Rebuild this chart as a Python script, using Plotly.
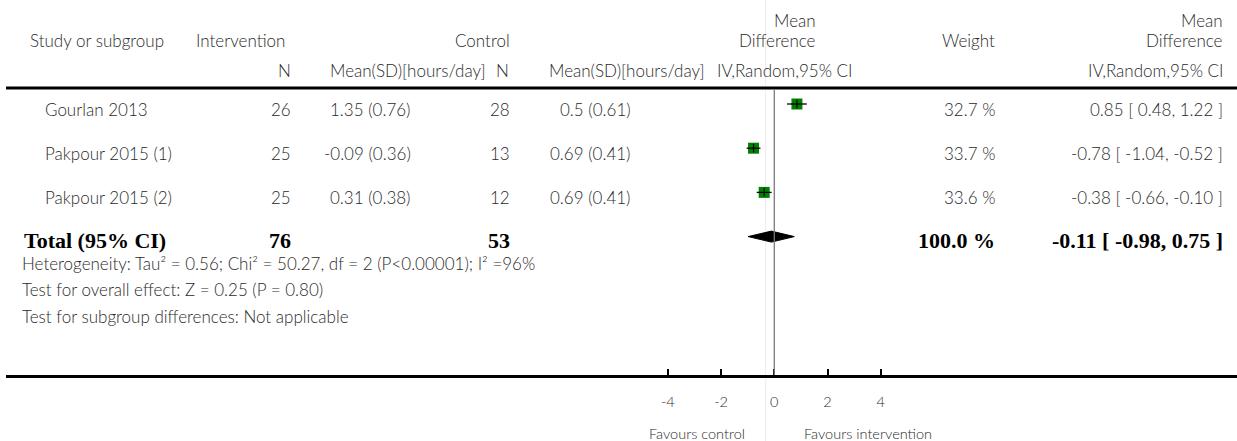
import plotly.graph_objects as go

# ---- data -------------------------------------------------------------
studies = ["Gourlan 2013", "Pakpour 2015 (1)", "Pakpour 2015 (2)"]
int_n = [26, 25, 25]
int_mean = [1.35, -0.09, 0.31]
int_sd = [0.76, 0.36, 0.38]
ctrl_n = [28, 13, 12]
ctrl_mean = [0.5, 0.69, 0.69]
ctrl_sd = [0.61, 0.41, 0.41]
md = [0.85, -0.78, -0.38]
ci_lo = [0.48, -1.04, -0.66]
ci_hi = [1.22, -0.52, -0.10]
weights = [32.7, 33.7, 33.6]

total_label = "Total (95% CI)"
total_int_n = 76
total_ctrl_n = 53
total_md = -0.11
total_lo = -0.98
total_hi = 0.75
total_weight = 100.0

footer_lines = [
    "Heterogeneity: Tau² = 0.56; Chi² = 50.27, df = 2 (P&lt;0.00001); I² =96%",
    "Test for overall effect: Z = 0.25 (P = 0.80)",
    "Test for subgroup differences: Not applicable",
]
tick_vals = [-4, -2, 0, 2, 4]
tick_text = ["-4", "-2", "0", "2", "4"]
favours_left = "Favours control"
favours_right = "Favours intervention"

# ---- page geometry (pixels) --------------------------------------------
W, H = 1237, 441
ZERO_PX = 774.3          # x pixel of MD = 0
UNIT_PX = 26.62          # pixels per MD unit
AXIS_LEFT_PX = 6
ROW0_PX = 104.0          # y pixel of first study row marker
ROW_STEP = 44.2          # pixels between rows
AXIS_Y_PX = 375

def px(x):
    return x / W

def py(y):
    return 1 - y / H

x_left = (AXIS_LEFT_PX - ZERO_PX) / UNIT_PX
x_right = (W - ZERO_PX) / UNIT_PX
y_top = (0 - ROW0_PX) / ROW_STEP
y_bot = (AXIS_Y_PX - ROW0_PX) / ROW_STEP

TXT = "#2a2a2a"
FONT = "Lato"
BODY = dict(family=FONT, size=17, color=TXT, weight=300)
BOLD = dict(family="Liberation Serif", size=22, color="black", weight="bold")

fig = go.Figure()

rows = list(range(len(studies)))
total_row = len(studies)

# study squares
fig.add_trace(go.Scatter(
    x=md, y=rows, mode="markers",
    marker=dict(symbol="square", size=11, color="#008000", line=dict(width=0)),
    showlegend=False, hoverinfo="skip"))

# confidence-interval whiskers over the boxes, plus centre ticks
for i in rows:
    fig.add_trace(go.Scatter(
        x=[ci_lo[i], ci_hi[i]], y=[i, i], mode="lines",
        line=dict(color="black", width=1.3), hoverinfo="skip", showlegend=False))
fig.add_trace(go.Scatter(
    x=md, y=rows, mode="markers",
    marker=dict(symbol="line-ns", size=6, line=dict(color="black", width=1.2)),
    showlegend=False, hoverinfo="skip"))

# pooled estimate diamond
half_h = 5.5 / ROW_STEP
fig.add_trace(go.Scatter(
    x=[total_lo, total_md, total_hi, total_md, total_lo],
    y=[total_row, total_row - half_h, total_row, total_row + half_h, total_row],
    mode="lines", fill="toself", fillcolor="black",
    line=dict(color="black", width=1), hoverinfo="skip", showlegend=False))

shapes = [
    # header rule
    dict(type="line", xref="paper", yref="paper", x0=px(6), x1=1, y0=py(88), y1=py(88),
         line=dict(color="black", width=3)),
    # faint column separator
    dict(type="line", xref="paper", yref="paper", x0=px(765.7), x1=px(765.7), y0=0, y1=1,
         line=dict(color="#ececec", width=1), layer="below"),
    # line of no effect
    dict(type="line", xref="x", yref="paper", x0=0, x1=0, y0=py(AXIS_Y_PX), y1=py(89),
         line=dict(color="#7a7a7a", width=1.3)),
]

ann = []

def text(x, y, s, anchor="left", font=BODY):
    ann.append(dict(x=px(x), y=py(y), xref="paper", yref="paper", text=s,
                    showarrow=False, xanchor=anchor, yanchor="middle", font=font))

# header
text(28, 40, "Study or subgroup")
text(287, 40, "Intervention", "right")
text(293, 70, "N", "right")
text(328, 70, "Mean(SD)[hours/day]")
text(512, 40, "Control", "right")
text(511, 70, "N", "right")
text(547, 70, "Mean(SD)[hours/day]")
text(715, 70, "IV,Random,95% CI")
text(818, 20, "Mean", "right")
text(818, 40, "Difference", "right")
text(997, 40, "Weight", "right")
text(1225, 20, "Mean", "right")
text(1225, 40, "Difference", "right")
text(1225, 70, "IV,Random,95% CI", "right")

# study rows
for i in rows:
    yy = ROW0_PX + ROW_STEP * i + 5.5
    text(43, yy, studies[i])
    text(293, yy, str(int_n[i]), "right")
    text(413, yy, f"{int_mean[i]:g} ({int_sd[i]:.2f})", "right")
    text(512, yy, str(ctrl_n[i]), "right")
    text(633, yy, f"{ctrl_mean[i]:g} ({ctrl_sd[i]:.2f})", "right")
    text(997, yy, f"{weights[i]:.1f} %", "right")
    text(1225, yy, f"{md[i]:.2f} [ {ci_lo[i]:.2f}, {ci_hi[i]:.2f} ]", "right")

# total row
ty = ROW0_PX + ROW_STEP * total_row + 3.5
text(22, ty, total_label, font=BOLD)
text(293, ty, str(total_int_n), "right", BOLD)
text(512, ty, str(total_ctrl_n), "right", BOLD)
text(997, ty, f"{total_weight:.1f} %", "right", BOLD)
text(1225, ty, f"{total_md:.2f} [ {total_lo:.2f}, {total_hi:.2f} ]", "right", BOLD)

# footer statistics
for k, line in enumerate(footer_lines):
    text(20, 263 + 26.5 * k, line, font=BODY)

# favours labels
small = dict(BODY, size=14.5)
text(747, 433, favours_left, "right", small)
text(802, 433, favours_right, "left", small)

fig.update_layout(
    width=W, height=H, margin=dict(l=0, r=0, t=0, b=0),
    paper_bgcolor="white", plot_bgcolor="white",
    shapes=shapes, annotations=ann, showlegend=False,
    xaxis=dict(domain=[px(AXIS_LEFT_PX), 1], range=[x_left, x_right],
               anchor="y", side="bottom",
               showline=True, linecolor="black", linewidth=3,
               ticks="inside", ticklen=6, tickwidth=2, tickcolor="black",
               tickvals=tick_vals, ticktext=tick_text,
               tickfont=dict(family=FONT, size=14.5, color=TXT, weight=300),
               ticklabelstandoff=12,
               showgrid=False, zeroline=False, fixedrange=True),
    yaxis=dict(domain=[py(AXIS_Y_PX), 1], range=[y_bot, y_top], visible=False,
               showgrid=False, zeroline=False, fixedrange=True),
)

fig.write_html("out.html")
